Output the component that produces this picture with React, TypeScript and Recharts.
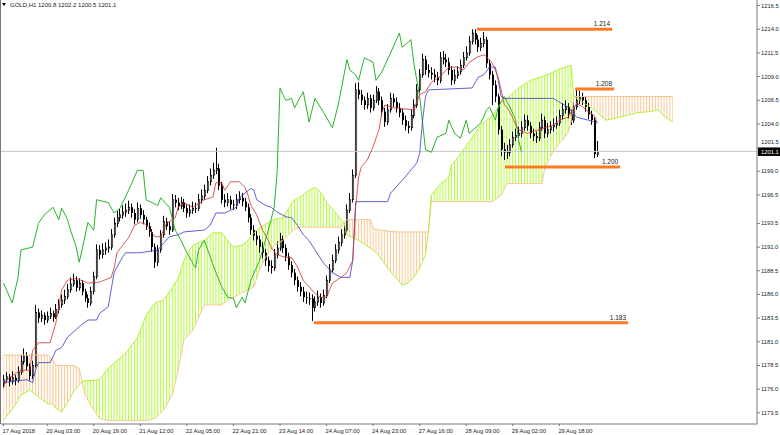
import React from 'react';
import { ComposedChart, Bar, Line, Area, XAxis, YAxis, ReferenceLine } from 'recharts';

const FONT = '"Liberation Sans", Arial, sans-serif';

// right price scale
const priceTicks = [
  1216.5, 1214.0, 1211.5, 1209.0, 1206.5, 1204.0, 1201.5, 1199.0, 1196.5,
  1193.5, 1191.0, 1188.5, 1186.0, 1183.5, 1181.0, 1178.5, 1176.0, 1173.5,
];
const lastPrice = 1201.1;

// time scale (H1 bars)
const timeTickBars = [0, 15, 31, 47, 63, 79, 95, 111, 127, 143, 159, 175, 191];
const timeLabels = [
  '17 Aug 2018', '20 Aug 03:00', '20 Aug 19:00', '21 Aug 12:00', '22 Aug 05:00',
  '22 Aug 21:00', '23 Aug 14:00', '24 Aug 07:00', '24 Aug 23:00', '27 Aug 16:00',
  '28 Aug 09:00', '29 Aug 02:00', '29 Aug 18:00',
];

// candles [open, high, low, close]
const candlesA = [
  [1176.6, 1177.5, 1176.2, 1177.0], [1177.0, 1177.8, 1176.7, 1177.3], [1177.3, 1177.6, 1176.3, 1176.8],
  [1176.8, 1177.9, 1176.5, 1177.2], [1177.2, 1177.5, 1176.4, 1176.9], [1176.9, 1178.4, 1176.7, 1177.8],
  [1177.8, 1179.6, 1177.5, 1178.9], [1178.9, 1180.3, 1178.6, 1179.5], [1179.5, 1179.9, 1178.0, 1178.4],
  [1178.4, 1178.7, 1176.9, 1177.4], [1177.4, 1179.0, 1177.1, 1178.5], [1178.5, 1184.9, 1178.3, 1184.1],
  [1184.1, 1184.5, 1183.0, 1183.5], [1183.5, 1184.3, 1183.1, 1183.8], [1183.8, 1184.1, 1182.8, 1183.3],
  [1183.3, 1184.2, 1183.0, 1183.7], [1183.7, 1184.6, 1183.4, 1184.0], [1184.0, 1184.3, 1183.1, 1183.6],
  [1183.6, 1185.0, 1183.4, 1184.4], [1184.4, 1185.5, 1184.0, 1184.9], [1184.9, 1186.0, 1184.6, 1185.4],
  [1185.4, 1186.5, 1185.0, 1185.8], [1185.8, 1187.1, 1185.5, 1186.5], [1186.5, 1187.8, 1186.2, 1187.1],
  [1187.1, 1188.2, 1186.8, 1187.5], [1187.5, 1187.9, 1186.3, 1186.7], [1186.7, 1187.7, 1186.4, 1187.2],
  [1187.2, 1187.5, 1185.9, 1186.3], [1186.3, 1186.6, 1185.2, 1185.6], [1185.6, 1186.0, 1184.6, 1185.1],
  [1185.1, 1186.8, 1184.8, 1186.3], [1186.3, 1188.4, 1186.0, 1187.9], [1187.9, 1191.3, 1187.6, 1190.7],
  [1190.7, 1191.2, 1189.7, 1190.2], [1190.2, 1191.4, 1189.8, 1190.7], [1190.7, 1191.5, 1190.2, 1190.9],
  [1190.9, 1191.8, 1190.4, 1191.0], [1191.0, 1192.9, 1190.7, 1192.3], [1192.3, 1194.1, 1192.0, 1193.5],
  [1193.5, 1194.8, 1193.1, 1194.1], [1194.1, 1195.0, 1193.7, 1194.4],
];
const candlesB = [
  [1194.4, 1195.4, 1194.0, 1194.7], [1194.7, 1195.6, 1194.2, 1194.9], [1194.9, 1195.9, 1194.5, 1195.2],
  [1195.2, 1195.6, 1194.1, 1194.6], [1194.6, 1195.0, 1193.4, 1193.9], [1193.9, 1195.7, 1193.6, 1195.1],
  [1195.1, 1195.5, 1194.0, 1194.4], [1194.4, 1194.9, 1193.4, 1193.9], [1193.9, 1194.2, 1192.8, 1193.2],
  [1193.2, 1193.6, 1192.1, 1192.6], [1192.6, 1192.9, 1190.5, 1191.0], [1191.0, 1191.4, 1188.8, 1189.4],
  [1189.4, 1191.2, 1189.0, 1190.7], [1190.7, 1192.8, 1190.4, 1192.3], [1192.3, 1194.3, 1192.0, 1193.7],
  [1193.7, 1194.1, 1192.8, 1193.2], [1193.2, 1193.7, 1192.3, 1192.8], [1192.8, 1196.6, 1192.6, 1196.0],
  [1196.0, 1196.5, 1195.2, 1195.7], [1195.7, 1196.2, 1194.9, 1195.3], [1195.3, 1196.3, 1195.0, 1195.7],
  [1195.7, 1196.1, 1194.7, 1195.1], [1195.1, 1195.5, 1194.1, 1194.6], [1194.6, 1195.5, 1194.2, 1194.9],
  [1194.9, 1195.8, 1194.5, 1195.1], [1195.1, 1195.7, 1194.6, 1195.1], [1195.1, 1196.6, 1194.8, 1196.0],
  [1196.0, 1197.1, 1195.6, 1196.4], [1196.4, 1197.6, 1196.0, 1197.0], [1197.0, 1198.5, 1196.7, 1197.9],
  [1197.9, 1199.3, 1197.5, 1198.6], [1198.6, 1199.9, 1198.2, 1199.1], [1199.1, 1201.5, 1198.7, 1199.3],
  [1199.3, 1199.8, 1197.0, 1197.5], [1197.5, 1197.9, 1195.6, 1196.0], [1196.0, 1196.6, 1195.2, 1195.7],
  [1195.7, 1196.7, 1195.3, 1196.0], [1196.0, 1196.4, 1195.0, 1195.5], [1195.5, 1196.0, 1194.9, 1195.4],
  [1195.4, 1196.6, 1195.0, 1196.0], [1196.0, 1196.9, 1195.6, 1196.2],
];
const candlesC = [
  [1196.2, 1196.7, 1195.3, 1195.8], [1195.8, 1196.2, 1194.8, 1195.2], [1195.2, 1195.6, 1193.6, 1194.1],
  [1194.1, 1194.5, 1192.3, 1192.8], [1192.8, 1193.3, 1191.7, 1192.2], [1192.2, 1192.7, 1191.2, 1191.8],
  [1191.8, 1192.2, 1190.4, 1191.0], [1191.0, 1191.5, 1189.8, 1190.4], [1190.4, 1190.8, 1189.0, 1189.6],
  [1189.6, 1190.0, 1188.4, 1189.0], [1189.0, 1189.6, 1188.2, 1188.8], [1188.8, 1190.8, 1188.5, 1190.2],
  [1190.2, 1191.6, 1189.8, 1190.9], [1190.9, 1192.5, 1190.6, 1191.8], [1191.8, 1192.2, 1190.4, 1190.9],
  [1190.9, 1191.3, 1189.5, 1190.0], [1190.0, 1190.4, 1188.6, 1189.1], [1189.1, 1189.5, 1187.8, 1188.3],
  [1188.3, 1188.7, 1187.0, 1187.5], [1187.5, 1187.9, 1186.3, 1186.8], [1186.8, 1187.3, 1185.8, 1186.3],
  [1186.3, 1186.8, 1185.2, 1185.7], [1185.7, 1186.3, 1185.0, 1185.6], [1185.6, 1186.2, 1184.9, 1185.6],
  [1185.6, 1186.0, 1183.2, 1184.6], [1184.6, 1185.8, 1184.2, 1185.2], [1185.2, 1186.4, 1184.8, 1185.7],
  [1185.7, 1186.1, 1184.6, 1185.1], [1185.1, 1186.5, 1184.8, 1185.9], [1185.9, 1188.0, 1185.6, 1187.5],
  [1187.5, 1189.2, 1187.2, 1188.6], [1188.6, 1190.2, 1188.3, 1189.6], [1189.6, 1191.3, 1189.3, 1190.7],
  [1190.7, 1192.1, 1190.3, 1191.5], [1191.5, 1192.9, 1191.1, 1192.3], [1192.3, 1193.5, 1191.9, 1192.8],
  [1192.8, 1195.5, 1192.5, 1194.9], [1194.9, 1196.7, 1194.6, 1196.0], [1196.0, 1199.2, 1195.7, 1198.6],
  [1198.6, 1208.3, 1198.3, 1207.6], [1207.6, 1208.4, 1206.6, 1207.1],
];
const candlesD = [
  [1207.1, 1207.6, 1206.0, 1206.5], [1206.5, 1206.9, 1205.5, 1206.0], [1206.0, 1207.3, 1205.6, 1206.7],
  [1206.7, 1207.1, 1205.2, 1205.7], [1205.7, 1207.1, 1205.4, 1206.5], [1206.5, 1208.0, 1206.2, 1207.4],
  [1207.4, 1207.8, 1206.0, 1206.5], [1206.5, 1206.9, 1204.8, 1205.3], [1205.3, 1205.7, 1203.7, 1204.2],
  [1204.2, 1206.1, 1203.9, 1205.5], [1205.5, 1207.3, 1205.2, 1206.7], [1206.7, 1207.2, 1205.8, 1206.3],
  [1206.3, 1206.8, 1205.2, 1205.7], [1205.7, 1206.2, 1204.7, 1205.2], [1205.2, 1205.6, 1203.9, 1204.4],
  [1204.4, 1204.9, 1203.3, 1203.8], [1203.8, 1204.3, 1203.0, 1203.6], [1203.6, 1205.5, 1203.3, 1204.9],
  [1204.9, 1206.6, 1204.6, 1206.0], [1206.0, 1208.2, 1205.7, 1207.6], [1207.6, 1209.8, 1207.3, 1209.2],
  [1209.2, 1211.4, 1208.9, 1210.8], [1210.8, 1211.2, 1209.2, 1209.7], [1209.7, 1210.3, 1208.9, 1209.4],
  [1209.4, 1210.0, 1208.7, 1209.2], [1209.2, 1209.8, 1208.4, 1208.9], [1208.9, 1209.5, 1208.1, 1208.6],
  [1208.6, 1211.6, 1208.3, 1211.0], [1211.0, 1211.7, 1210.3, 1210.8], [1210.8, 1211.4, 1210.0, 1210.5],
  [1210.5, 1211.0, 1209.2, 1209.7], [1209.7, 1210.1, 1208.1, 1208.6], [1208.6, 1209.8, 1208.2, 1209.1],
  [1209.1, 1210.1, 1208.8, 1209.5], [1209.5, 1210.8, 1209.2, 1210.2], [1210.2, 1211.6, 1209.9, 1211.0],
  [1211.0, 1212.2, 1210.7, 1211.5], [1211.5, 1213.3, 1211.2, 1212.7], [1212.7, 1214.0, 1212.4, 1213.6],
  [1213.6, 1214.0, 1212.4, 1212.9], [1212.9, 1213.4, 1211.6, 1212.1],
];
const candlesE = [
  [1212.1, 1213.1, 1211.7, 1212.5], [1212.5, 1213.7, 1212.1, 1212.9], [1212.9, 1213.2, 1209.9, 1210.4],
  [1210.4, 1210.8, 1208.7, 1209.2], [1209.2, 1209.6, 1206.0, 1208.1], [1208.1, 1208.6, 1206.3, 1206.9],
  [1206.9, 1207.2, 1202.9, 1203.4], [1203.4, 1203.8, 1200.6, 1201.3], [1201.3, 1202.0, 1200.2, 1201.0],
  [1201.0, 1201.8, 1200.3, 1201.0], [1201.0, 1202.4, 1200.6, 1201.8], [1201.8, 1203.2, 1201.5, 1202.6],
  [1202.6, 1203.5, 1202.2, 1202.8], [1202.8, 1203.7, 1202.3, 1203.0], [1203.0, 1204.3, 1202.6, 1203.6],
  [1203.6, 1205.0, 1203.3, 1204.4], [1204.4, 1204.9, 1203.3, 1203.8], [1203.8, 1204.2, 1202.5, 1203.0],
  [1203.0, 1203.5, 1202.2, 1202.7], [1202.7, 1203.2, 1202.0, 1202.5], [1202.5, 1204.2, 1202.2, 1203.6],
  [1203.6, 1205.1, 1203.3, 1204.4], [1204.4, 1204.8, 1202.5, 1203.0], [1203.0, 1204.1, 1202.6, 1203.4],
  [1203.4, 1204.3, 1203.0, 1203.7], [1203.7, 1204.6, 1203.2, 1203.9], [1203.9, 1204.8, 1203.5, 1204.1],
  [1204.1, 1205.5, 1203.8, 1204.9], [1204.9, 1206.2, 1204.5, 1205.5], [1205.5, 1206.5, 1205.1, 1205.8],
  [1205.8, 1206.2, 1204.6, 1205.1], [1205.1, 1205.5, 1203.9, 1204.4], [1204.4, 1206.4, 1204.1, 1205.8],
  [1205.8, 1207.7, 1205.5, 1206.5], [1206.5, 1207.5, 1206.1, 1206.9], [1206.9, 1207.3, 1206.0, 1206.5],
  [1206.5, 1206.9, 1205.3, 1205.8], [1205.8, 1206.2, 1204.5, 1205.0], [1205.0, 1205.4, 1203.9, 1204.4],
  [1204.4, 1204.7, 1200.4, 1200.8], [1200.8, 1202.2, 1200.5, 1201.1],
];

// Ichimoku lines, [bar, price]
const tenkanPts = [
  [0, 1176.1], [1, 1177.0], [6, 1178.0], [9, 1178.0], [10, 1180.1], [12, 1180.9], [16, 1180.9],
  [18, 1183.0], [19, 1184.7], [20, 1186.5], [22, 1187.5], [25, 1187.7], [29, 1187.2], [33, 1187.3],
  [37, 1187.8], [38, 1188.8], [39, 1190.4], [41, 1191.2], [43, 1192.0], [45, 1193.3], [47, 1193.6],
  [49, 1193.4], [52, 1192.1], [54, 1192.1], [56, 1193.5], [59, 1194.1], [60, 1195.2], [62, 1195.7],
  [65, 1195.2], [69, 1196.0], [72, 1196.3], [73, 1197.8], [75, 1197.8], [76, 1197.0], [78, 1197.9],
  [81, 1197.9], [83, 1197.3], [84, 1196.5], [85, 1195.4], [87, 1194.4], [89, 1192.8], [91, 1191.7],
  [92, 1190.9], [94, 1190.2], [97, 1189.9], [99, 1189.9], [101, 1188.9], [103, 1187.5], [105, 1186.8],
  [107, 1186.1], [109, 1185.7], [111, 1185.7], [113, 1187.2], [116, 1187.8], [118, 1188.3], [120, 1189.6],
  [121, 1195.2], [122, 1198.4], [123, 1199.5], [125, 1200.2], [127, 1201.6], [129, 1203.4], [130, 1205.2],
  [131, 1206.0], [134, 1205.7], [141, 1205.5], [143, 1207.1], [145, 1207.4], [147, 1208.4], [150, 1209.0],
  [153, 1210.0], [156, 1210.0], [158, 1209.7], [160, 1210.5], [163, 1211.1], [165, 1211.3], [166, 1211.1],
  [168, 1210.4], [170, 1208.9], [171, 1207.6], [172, 1206.1], [174, 1205.3], [176, 1203.9], [177, 1203.4],
  [180, 1203.0], [184, 1203.4], [189, 1203.9], [191, 1204.4], [194, 1204.7], [195, 1205.2], [197, 1206.2],
  [199, 1205.8], [201, 1205.3], [203, 1204.9], [204, 1204.1],
];
const kijunPts = [
  [0, 1176.7], [8, 1177.0], [10, 1176.7], [11, 1178.0], [12, 1178.8], [16, 1178.8], [17, 1179.4],
  [18, 1180.1], [20, 1180.4], [22, 1181.5], [25, 1182.3], [26, 1182.6], [29, 1183.3], [32, 1183.3],
  [33, 1184.0], [36, 1184.7], [37, 1186.5], [38, 1188.3], [39, 1188.9], [41, 1190.0], [42, 1190.4],
  [47, 1190.4], [53, 1190.7], [55, 1191.4], [57, 1192.1], [60, 1192.3], [62, 1192.6], [69, 1192.8],
  [71, 1193.3], [73, 1194.6], [76, 1194.6], [80, 1195.2], [81, 1196.2], [83, 1196.7], [85, 1197.2],
  [86, 1197.0], [87, 1196.0], [90, 1195.4], [92, 1195.2], [94, 1194.7], [97, 1194.2], [99, 1194.1],
  [101, 1193.3], [103, 1192.3], [105, 1191.7], [107, 1190.7], [110, 1189.3], [113, 1188.3], [116, 1187.8],
  [119, 1187.8], [120, 1189.6], [121, 1195.8], [132, 1195.8], [133, 1196.7], [138, 1198.4], [142, 1199.9],
  [143, 1200.9], [144, 1204.4], [145, 1206.9], [146, 1207.6], [161, 1207.8], [163, 1208.9], [165, 1209.2],
  [167, 1210.0], [169, 1210.0], [170, 1208.6], [171, 1206.9], [172, 1206.7], [189, 1206.7], [191, 1206.3],
  [194, 1205.8], [197, 1204.7], [201, 1204.4], [204, 1204.1],
];
const chikouPts = [
  [0, 1187.2], [3, 1185.1], [5, 1187.8], [6, 1190.7], [10, 1191.0], [12, 1193.5], [14, 1194.4],
  [17, 1195.2], [19, 1193.9], [20, 1195.1], [22, 1193.9], [23, 1192.8], [25, 1191.0], [26, 1189.4],
  [27, 1190.7], [29, 1193.6], [31, 1192.8], [32, 1196.0], [36, 1195.7], [38, 1194.6], [40, 1195.1],
  [43, 1197.0], [46, 1199.1], [48, 1199.1], [49, 1196.0], [53, 1195.4], [54, 1196.2], [57, 1195.2],
  [59, 1192.8], [61, 1191.7], [63, 1190.4], [66, 1188.8], [67, 1190.7], [69, 1191.7], [71, 1190.0],
  [73, 1188.3], [75, 1186.8], [77, 1185.7], [79, 1185.6], [80, 1184.6], [82, 1185.7], [83, 1185.1],
  [85, 1187.5], [88, 1189.6], [91, 1192.8], [93, 1195.2], [94, 1198.8], [95, 1207.8], [96, 1207.1],
  [97, 1206.5], [99, 1206.7], [100, 1205.7], [103, 1207.4], [105, 1204.2], [107, 1206.7], [110, 1205.2],
  [113, 1203.6], [115, 1206.0], [118, 1210.8], [119, 1209.7], [121, 1209.2], [122, 1208.6], [124, 1211.0],
  [127, 1210.5], [128, 1208.6], [130, 1209.5], [133, 1211.5], [136, 1213.6], [137, 1212.1], [140, 1212.9],
  [141, 1210.4], [143, 1206.9], [145, 1201.3], [147, 1201.0], [149, 1202.6], [152, 1203.0], [153, 1204.4],
  [155, 1203.0], [157, 1202.5], [159, 1204.4], [160, 1203.0], [164, 1204.1], [166, 1205.5], [167, 1205.8],
  [169, 1204.4], [170, 1205.8], [172, 1206.9], [174, 1205.8], [176, 1204.4], [177, 1202.3], [178, 1201.0],
];

// Kumo: senkou span A / B at the same bars
const kumoBars = [
  0, 4, 6, 9, 12, 15, 17, 18, 20, 22, 24, 26, 27, 28, 30, 33, 36, 42, 46, 49, 52, 55, 58, 60, 62, 65,
  69, 72, 75, 77, 79, 82, 84, 86, 88, 90, 93, 96, 98, 100, 102, 105, 107, 109, 111, 114, 116, 117, 118,
  122, 126, 127, 129, 132, 135, 137, 139, 141, 143, 145, 146, 147, 150, 153, 154, 156, 160, 164, 168,
  171, 173, 177, 181, 185, 186, 189, 192, 194, 195, 196, 198, 201, 203, 207, 210, 214, 218, 222, 225,
  227, 230,
];
const spanAVals = [
  1172.7, 1174.3, 1175.4, 1175.9, 1175.2, 1174.5, 1174.4, 1174.0, 1173.6, 1174.6, 1175.7, 1176.4, 1176.8,
  1176.9, 1176.9, 1177.0, 1178.2, 1179.8, 1181.4, 1183.8, 1185.1, 1185.4, 1186.7, 1187.7, 1189.6, 1191.2,
  1191.7, 1192.5, 1192.5, 1191.7, 1191.0, 1191.2, 1191.7, 1192.5, 1193.0, 1193.4, 1193.9, 1194.1, 1195.1,
  1196.0, 1196.3, 1197.0, 1197.3, 1196.8, 1195.7, 1194.7, 1193.9, 1193.6, 1192.3, 1191.7, 1190.9, 1190.7,
  1190.1, 1188.8, 1187.7, 1187.0, 1187.2, 1187.8, 1188.8, 1190.2, 1192.6, 1196.5, 1197.6, 1198.4, 1199.7,
  1200.4, 1202.1, 1203.9, 1204.9, 1206.2, 1206.7, 1207.8, 1208.6, 1209.0, 1209.1, 1209.5, 1209.9, 1210.1,
  1210.2, 1206.9, 1206.5, 1205.9, 1205.5, 1204.4, 1204.6, 1204.9, 1205.2, 1205.3, 1205.5, 1204.8, 1204.2,
];
const spanBVals = [
  1179.6, 1179.6, 1179.6, 1179.6, 1179.6, 1179.6, 1179.1, 1178.5, 1178.5, 1178.5, 1178.5, 1178.2, 1176.8,
  1175.4, 1174.3, 1172.9, 1172.7, 1172.7, 1172.7, 1172.7, 1172.9, 1173.8, 1175.4, 1178.0, 1181.2, 1182.2,
  1184.9, 1184.9, 1184.9, 1185.4, 1185.7, 1186.2, 1186.5, 1186.8, 1188.6, 1189.9, 1191.2, 1191.7, 1192.3,
  1192.9, 1193.1, 1193.1, 1193.1, 1193.1, 1193.1, 1193.1, 1193.1, 1193.6, 1193.9, 1193.9, 1193.9, 1193.0,
  1192.8, 1192.7, 1192.6, 1192.6, 1192.6, 1192.6, 1192.6, 1192.6, 1192.6, 1195.8, 1195.8, 1195.8, 1195.8,
  1195.8, 1195.8, 1195.8, 1195.8, 1196.5, 1197.7, 1197.7, 1197.7, 1197.7, 1199.4, 1201.2, 1202.3, 1203.1,
  1204.2, 1206.9, 1206.9, 1206.9, 1206.9, 1206.9, 1206.9, 1206.9, 1206.9, 1206.9, 1206.9, 1206.9, 1206.9,
];
// kumo sections between span crossings
const kumoSections = [
  { from: 0, to: 27, bull: false },
  { from: 27, to: 117, bull: true },
  { from: 117, to: 146, bull: false },
  { from: 146, to: 196, bull: true },
  { from: 196, to: 230, bull: false },
];

// horizontal levels drawn on the chart
const levels = [
  { price: 1214.0, from: 162.7, to: 209.1, text: '1.214' },
  { price: 1207.7, from: 196.4, to: 209.8, text: '1.208' },
  { price: 1199.45, from: 172.3, to: 211.9, text: '1.200' },
  { price: 1183.0, from: 106.7, to: 214.6, text: '1.183' },
];

const allCandles = [...candlesA, ...candlesB, ...candlesC, ...candlesD, ...candlesE];
const rows: any[] = [];
for (let i = 0; i <= 230; i++) rows.push({ i });
allCandles.forEach(([o, h, l, c], i) => Object.assign(rows[i], { o, h, l, c }));
tenkanPts.forEach(([b, v]) => (rows[b].tenkan = v));
kijunPts.forEach(([b, v]) => (rows[b].kijun = v));
chikouPts.forEach(([b, v]) => (rows[b].chikou = v));
kumoBars.forEach((b, k) => {
  rows[b].spanA = spanAVals[k];
  rows[b].spanB = spanBVals[k];
});

const BAR_PX = 2.91;

function Candle(props: any) {
  const { x, y, width, height, payload } = props;
  if (!payload || payload.h == null) return null;
  const { o, h, l, c } = payload;
  const top = Math.min(y, y + height);
  const span = Math.abs(height);
  const py = (v: number) => (h === l ? top : top + ((h - v) / (h - l)) * span);
  const cx = Math.round(x + width / 2);
  const bTop = py(Math.max(o, c));
  const bH = Math.max(py(Math.min(o, c)) - bTop, 0.8);
  const bull = c > o;
  return (
    <g>
      <line x1={cx + 0.5} x2={cx + 0.5} y1={top} y2={top + span} stroke="#000" strokeWidth={1} />
      {bull ? (
        <rect x={cx + 0.3} y={bTop} width={1.4} height={bH} fill="#fff" stroke="#000" strokeWidth={0.7} />
      ) : (
        <rect x={cx} y={bTop} width={2} height={bH} fill="#000" />
      )}
    </g>
  );
}

function TimeTick(props: any) {
  const { x, y, payload } = props;
  const k = timeTickBars.indexOf(payload.value);
  return (
    <text x={x - 1} y={y + 5} fontSize={5.8} fontFamily={FONT} fill="#222">
      {k >= 0 ? timeLabels[k] : ''}
    </text>
  );
}

// the last-price tag sits on the 1201.5 level, so that label is nudged above it
function PriceTick(props: any) {
  const { x, y, payload } = props;
  const v = payload.value as number;
  const shift = Math.abs(v - lastPrice) < 1 ? -6 : 0;
  return (
    <text x={x} y={y + 2 + shift} fontSize={5.8} fontFamily={FONT} fill="#222">
      {v.toFixed(1)}
    </text>
  );
}

function LevelLabel(props: any) {
  const { viewBox, text } = props;
  if (!viewBox) return null;
  const right = viewBox.x + (viewBox.width || 0);
  return (
    <text x={right - 2} y={viewBox.y - 3} textAnchor="end" fontSize={6.5} fontFamily={FONT} fill="#222">
      {text}
    </text>
  );
}

function PriceTag(props: any) {
  const { viewBox } = props;
  if (!viewBox) return null;
  const x = viewBox.x + viewBox.width + 1;
  return (
    <g>
      <rect x={x} y={viewBox.y - 4} width={22} height={8.5} fill="#000" />
      <text x={x + 3} y={viewBox.y + 2.2} fontSize={5.8} fontFamily={FONT} fill="#fff">
        {lastPrice.toFixed(1)}
      </text>
    </g>
  );
}

const kumoRange = (from: number, to: number) => (d: any) =>
  d.i >= from && d.i <= to && d.spanA != null
    ? [Math.min(d.spanA, d.spanB), Math.max(d.spanA, d.spanB)]
    : null;

const candleRange = (d: any) => (d.h != null ? [d.l, d.h] : null);

export default function App() {
  return (
    <div style={{ position: 'absolute', left: 0, top: 0, width: 780, height: 435, background: '#fff', overflow: 'hidden' }}>
      <div style={{ position: 'absolute', left: 0, top: 0, width: 1, height: 424, background: '#777' }} />
      <div
        style={{
          position: 'absolute', left: 2, top: 3, width: 0, height: 0,
          borderLeft: '2.5px solid transparent', borderRight: '2.5px solid transparent', borderTop: '3px solid #000',
        }}
      />
      <div style={{ position: 'absolute', left: 10, top: 2, fontFamily: FONT, fontSize: 6, lineHeight: 1, color: '#222', whiteSpace: 'nowrap' }}>
        GOLD,H1 1200.8 1202.2 1200.5 1201.1
      </div>
      <ComposedChart width={780} height={435} data={rows} margin={{ top: 0, right: 0, bottom: 0, left: 1 }}>
        <defs>
          <pattern id="kumoBull" patternUnits="userSpaceOnUse" x={3} y={0} width={BAR_PX} height={8}>
            <rect x={0} y={0} width={1} height={8} fill="#adff2f" />
          </pattern>
          <pattern id="kumoBear" patternUnits="userSpaceOnUse" x={3} y={0} width={BAR_PX} height={8}>
            <rect x={0} y={0} width={1} height={8} fill="#f8c592" />
          </pattern>
        </defs>
        <XAxis
          type="number"
          dataKey="i"
          domain={[-0.86, 258.9]}
          allowDataOverflow
          ticks={timeTickBars}
          interval={0}
          tick={<TimeTick />}
          tickSize={2}
          tickLine={{ stroke: '#777' }}
          axisLine={{ stroke: '#777' }}
          height={11}
        />
        <YAxis
          orientation="right"
          type="number"
          domain={[1172.32, 1217.09]}
          allowDataOverflow
          ticks={priceTicks}
          interval={0}
          tick={<PriceTick />}
          tickSize={3}
          tickMargin={1}
          tickLine={{ stroke: '#777' }}
          axisLine={{ stroke: '#777' }}
          width={23}
        />
        {kumoSections.map((s) => (
          <Area
            key={`kumo-${s.from}`}
            type="linear"
            dataKey={kumoRange(s.from, s.to)}
            fill={s.bull ? 'url(#kumoBull)' : 'url(#kumoBear)'}
            fillOpacity={1}
            stroke="none"
            connectNulls
            dot={false}
            activeDot={false}
            isAnimationActive={false}
          />
        ))}
        <Line type="linear" dataKey="spanB" stroke="#f8c592" strokeWidth={1} dot={false} connectNulls isAnimationActive={false} />
        <Line type="linear" dataKey="spanA" stroke="#b4f03c" strokeWidth={1} dot={false} connectNulls isAnimationActive={false} />
        <ReferenceLine y={lastPrice} stroke="#c8c8c8" strokeWidth={1} label={<PriceTag />} />
        <Bar dataKey={candleRange} barSize={2} shape={<Candle />} isAnimationActive={false} />
        <Line type="linear" dataKey="chikou" stroke="#28b428" strokeWidth={1} dot={false} connectNulls isAnimationActive={false} />
        <Line type="linear" dataKey="kijun" stroke="#3838c8" strokeWidth={0.8} dot={false} connectNulls isAnimationActive={false} />
        <Line type="linear" dataKey="tenkan" stroke="#d03030" strokeWidth={0.8} dot={false} connectNulls isAnimationActive={false} />
        {levels.map((lv) => (
          <ReferenceLine
            key={lv.text}
            segment={[{ x: lv.from, y: lv.price }, { x: lv.to, y: lv.price }]}
            stroke="#ff7a22"
            strokeWidth={3}
            label={<LevelLabel text={lv.text} />}
          />
        ))}
      </ComposedChart>
    </div>
  );
}
